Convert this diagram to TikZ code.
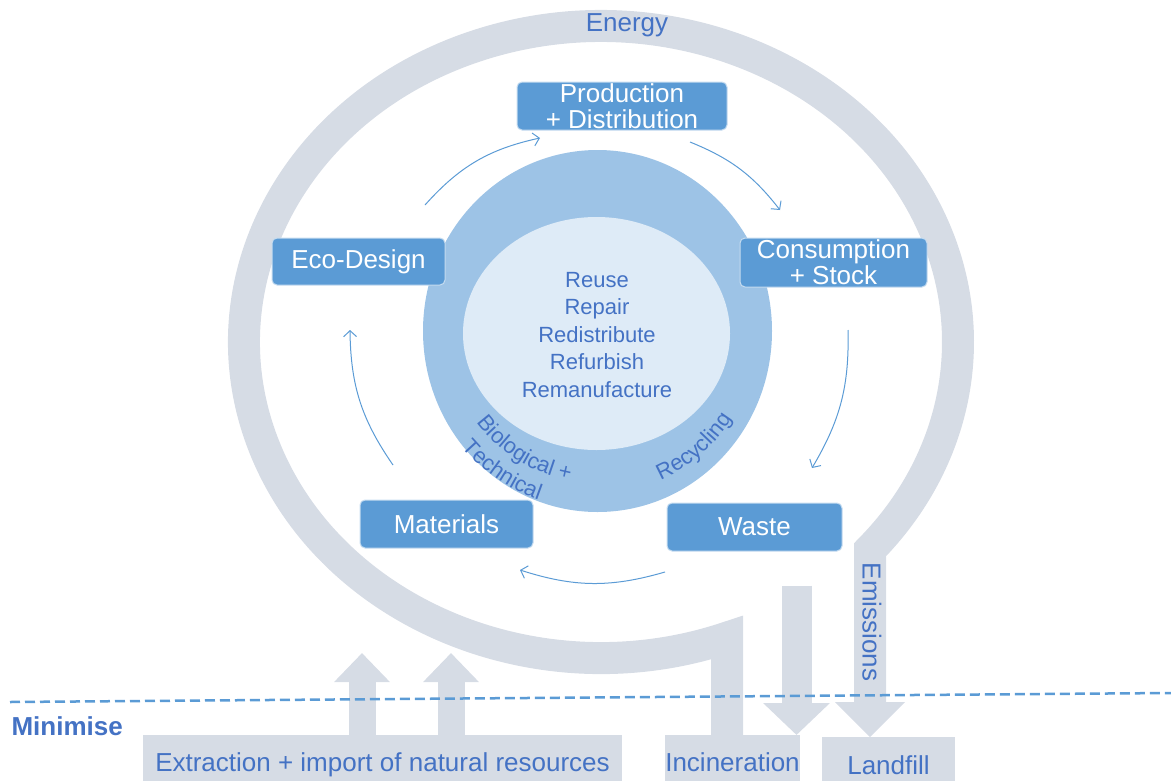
\documentclass[tikz,border=0pt]{standalone}
\usepackage{fontspec}
\setmainfont{Liberation Sans}
\usetikzlibrary{arrows.meta,calc,decorations.text}

\definecolor{ringgray}{RGB}{214,220,229}
\definecolor{boxblue}{RGB}{91,155,213}
\definecolor{discblue}{RGB}{157,195,230}
\definecolor{disclight}{RGB}{222,235,247}
\definecolor{txtblue}{RGB}{68,114,196}

\newcommand{\bigfont}{\fontsize{26}{26}\selectfont}
\newcommand{\midfont}{\fontsize{22}{27.5}\selectfont}
\newcommand{\ringfont}{\fontsize{22}{22}\selectfont}

\tikzset{
	stage/.style={rectangle, rounded corners=5pt, fill=boxblue, draw=white!65!boxblue, line width=1pt,
		text=white, font=\bigfont, align=center, inner sep=0pt},
	sink/.style={rectangle, fill=ringgray, text=txtblue, font=\bigfont, inner sep=0pt,
		text height=18pt, text depth=5pt, anchor=north},
	flow/.style={draw=boxblue, line width=1pt, -{Straight Barb[length=6pt,width=13pt]}},
	bandtext/.style={decorate, decoration={text along path, text align=center, text color=txtblue, text={#1}}}
}

\begin{document}
\begin{tikzpicture}[x=1pt,y=1pt]
	\useasboundingbox (0,0) rectangle (1171,-780);

	% inner discs
	\fill[discblue] (597.5,-331) ellipse [x radius=174.5, y radius=181];
	\fill[disclight] (596.5,-333.5) ellipse [x radius=133.5, y radius=116.5];
	\coordinate (mid) at (597,-333);

	% bottom boxes
	\node[sink, minimum width=479pt, minimum height=59pt] (extract) at (382.5,-735) {Extraction + import of natural resources};
	\node[sink, minimum width=135pt, minimum height=59pt] (incin) at (732.5,-735) {Incineration};
	\node[sink, minimum width=133pt, minimum height=62pt] (landfill) at (888.5,-737) {Landfill};

	% energy ring
	\draw[ringgray, line width=32pt] (727.2,-735) -- (727.2,-637.6)
		arc[start angle=-69.3, end angle=-401.1, x radius=357, y radius=316] -- (870,-702);
	\fill[ringgray] (835,-702) -- (905,-702) -- (870,-737) -- cycle;

	% stages
	\node[stage, minimum width=210pt, minimum height=48pt] (prod) at (622,-106) {Production\\+ Distribution};
	\node[stage, minimum width=187pt, minimum height=49pt] (cons) at (833.5,-262.5) {Consumption\\+ Stock};
	\node[stage, minimum width=173pt, minimum height=47pt] (eco) at (358.5,-261.5) {Eco-Design};
	\node[stage, minimum width=173pt, minimum height=48pt] (mat) at (446.5,-524) {Materials};
	\node[stage, minimum width=175pt, minimum height=48pt] (waste) at (754.5,-527) {Waste};

	% flows in and out
	\draw[ringgray, line width=27pt, -{Triangle[length=29pt,width=54pt]}] ([xshift=-20.5pt]extract.north) -- ++(0,82);
	\draw[ringgray, line width=27pt, -{Triangle[length=29pt,width=54pt]}] ([xshift=68.5pt]extract.north) -- ++(0,82);
	\draw[ringgray, line width=30pt, -{Triangle[length=32pt,width=65pt]}] ([xshift=42pt,yshift=-34pt]waste.south) -- ([xshift=64pt]incin.north);

	% cycle arrows
	\coordinate (f1a) at (425,-205); \coordinate (f1b) at (540,-138);
	\coordinate (f2a) at (690,-142); \coordinate (f2b) at (780,-210);
	\coordinate (f3a) at (848,-330); \coordinate (f3b) at (812,-468);
	\coordinate (f4a) at (665,-572); \coordinate (f4b) at (520,-570);
	\coordinate (f5a) at (393,-465); \coordinate (f5b) at (350,-330);
	\draw[flow] (f1a) to[bend left=18] (f1b);
	\draw[flow] (f2a) to[bend left=15] (f2b);
	\draw[flow] (f3a) to[bend left=16] (f3b);
	\draw[flow] (f4a) to[bend left=17] (f4b);
	\draw[flow] (f5a) to[bend left=17] (f5b);

	% labels
	\node[text=txtblue, font=\bigfont] (energy) at (627,-25) {Energy};
	\node[text=txtblue, font=\bigfont, rotate=-90] (emis) at (872,-622) {Emissions};
	\node[text=txtblue, font=\midfont, align=center] (reuse) at (597,-335) {Reuse\\Repair\\Redistribute\\Refurbish\\Remanufacture};
	\path[bandtext={|\ringfont|Biological +}] ($(mid)+(206:150)$) arc[start angle=206, end angle=270, radius=150];
	\path[bandtext={|\ringfont|Technical}] ($(mid)+(212:177)$) arc[start angle=212, end angle=259, radius=177];
	\path[bandtext={|\ringfont|Recycling}] ($(mid)+(288:160)$) arc[start angle=288, end angle=333, radius=160];

	% minimise line
	\draw[boxblue, line width=2.5pt, dash pattern=on 10pt off 5pt] (10,-702) -- (1171,-693);
	\node[text=txtblue, font=\bigfont\bfseries, anchor=west] (minim) at (8,-726) {Minimise};
\end{tikzpicture}
\end{document}
